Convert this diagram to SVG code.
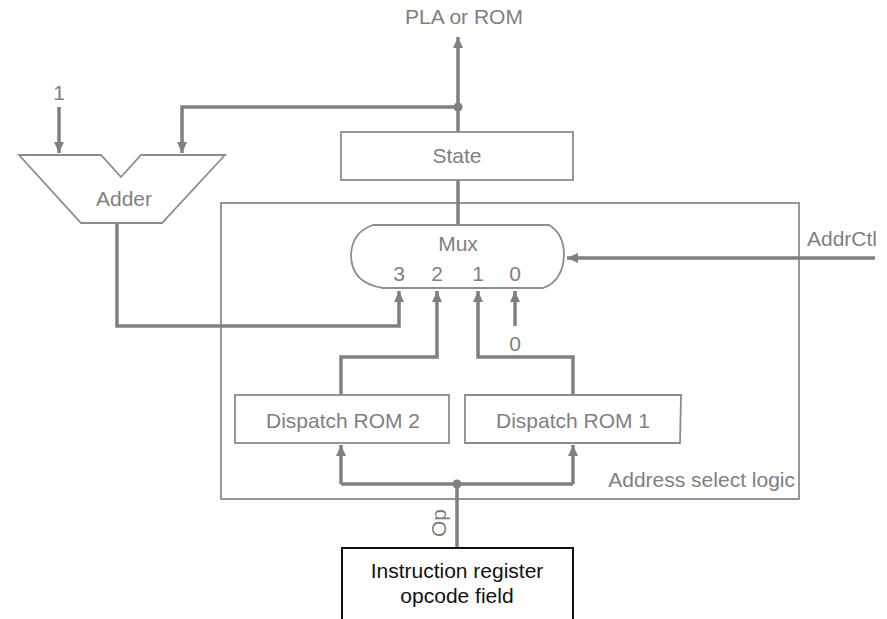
<svg xmlns="http://www.w3.org/2000/svg" width="887" height="619" viewBox="0 0 887 619">
<style>
.box{fill:#fff;stroke:#8c8c8c;stroke-width:1.8}
.wire{fill:none;stroke:#808080;stroke-width:3.5}
.t{font-family:"Liberation Sans",Arial,sans-serif;font-size:21px;fill:#808080}
.tb{font-family:"Liberation Sans",Arial,sans-serif;font-size:21px;fill:#111}
.dot{fill:#808080}
</style>
<defs>
<marker id="arr" markerUnits="userSpaceOnUse" markerWidth="12" markerHeight="10" refX="11" refY="5" orient="auto">
<path d="M0,0 L11,5 L0,10 Z" fill="#808080"/>
</marker>
</defs>
<rect width="887" height="619" fill="#fff"/>
<g id="address-select-logic">
<rect class="box" x="221" y="203" width="578" height="296" fill="none"/>
<text class="t" x="795" y="487" text-anchor="end">Address select logic</text>
</g>
<g id="connectors">
<path class="wire" d="M59,107 V153" marker-end="url(#arr)"/>
<path class="wire" d="M458,107 H182 V153" marker-end="url(#arr)"/>
<path class="wire" d="M458,132 V37" marker-end="url(#arr)"/>
<path class="wire" d="M458,180 V225"/>
<path class="wire" d="M117,223 V326 H399 V291" marker-end="url(#arr)"/>
<path class="wire" d="M341,395 V357 H437 V291" marker-end="url(#arr)"/>
<path class="wire" d="M573,395 V357 H478 V291" marker-end="url(#arr)"/>
<path class="wire" d="M515,326 V291" marker-end="url(#arr)"/>
<path class="wire" d="M875,258 H567" marker-end="url(#arr)"/>
<path class="wire" d="M457,548 V484"/>
<path class="wire" d="M341,484 H573"/>
<path class="wire" d="M341,484 V445" marker-end="url(#arr)"/>
<path class="wire" d="M573,484 V445" marker-end="url(#arr)"/>
<circle class="dot" cx="458" cy="107" r="4.5"/>
<circle class="dot" cx="457" cy="484" r="4.5"/>
<text class="t" x="59" y="100" text-anchor="middle">1</text>
<text class="t" x="464" y="24" text-anchor="middle">PLA or ROM</text>
<text class="t" x="842" y="246" text-anchor="middle">AddrCtl</text>
<text class="t" x="515" y="351" text-anchor="middle">0</text>
<text class="t" x="446" y="523" text-anchor="middle" transform="rotate(-90 446 523)">Op</text>
</g>
<g id="adder">
<path class="box" d="M19,155 H101 L121,177 L141,155 H225 L162,223 H81 Z"/>
<text class="t" x="124" y="206" text-anchor="middle">Adder</text>
</g>
<g id="state">
<rect class="box" x="341" y="132" width="232" height="48"/>
<text class="t" x="457" y="163" text-anchor="middle">State</text>
</g>
<g id="mux">
<path class="box" d="M373,225 H549 Q564,234 564,255 Q563,281 543,288 H383 Q351,283 351,255 Q352,232 373,225 Z"/>
<text class="t" x="458" y="251" text-anchor="middle">Mux</text>
<text class="t" x="399" y="281" text-anchor="middle">3</text>
<text class="t" x="437" y="281" text-anchor="middle">2</text>
<text class="t" x="478" y="281" text-anchor="middle">1</text>
<text class="t" x="515" y="281" text-anchor="middle">0</text>
</g>
<g id="dispatch-rom-2">
<rect class="box" x="235" y="395" width="214" height="48"/>
<text class="t" x="343" y="428" text-anchor="middle">Dispatch ROM 2</text>
</g>
<g id="dispatch-rom-1">
<path class="box" d="M465,395 H681 L680,443 H465 Z"/>
<text class="t" x="573" y="428" text-anchor="middle">Dispatch ROM 1</text>
</g>
<g id="instruction-register">
<rect x="342" y="548" width="231" height="90" fill="#fff" stroke="#111" stroke-width="2"/>
<text class="tb" x="457" y="578" text-anchor="middle">Instruction register</text>
<text class="tb" x="457" y="603" text-anchor="middle">opcode field</text>
</g>
</svg>
